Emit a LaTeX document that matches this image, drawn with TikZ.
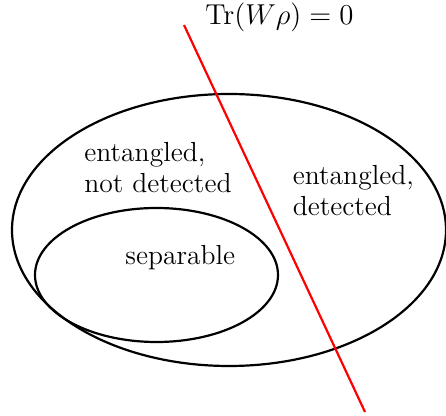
\documentclass[tikz,border=0pt]{standalone}
\begin{document}
\begin{tikzpicture}[x=0.5pt,y=-0.5pt,
  setline/.style={draw=black,line width=1.1pt},
  cutline/.style={draw=red,line width=1.1pt},
  lbl/.style={inner sep=0pt,font=\fontsize{13.8}{15.5}\selectfont,align=left}]
\useasboundingbox (0,0) rectangle (446,416);
\draw[setline] (229,230) ellipse [x radius=217, y radius=136];
\draw[setline] (156.5,275) ellipse [x radius=121.5, y radius=67];
\coordinate (top) at (184,25);
\coordinate (bot) at (365,412);
\draw[cutline] (top) -- (bot);
\node[lbl,anchor=base west] (witness) at (205,25) {$\mathrm{Tr}(W\rho)=0$};
\node[lbl,anchor=base west] (entnd) at (84,193) {entangled,\\not detected};
\node[lbl,anchor=base west] (entd) at (292.5,216) {entangled,\\detected};
\node[lbl,anchor=base west] (sep) at (125,265) {separable};
\end{tikzpicture}
\end{document}
